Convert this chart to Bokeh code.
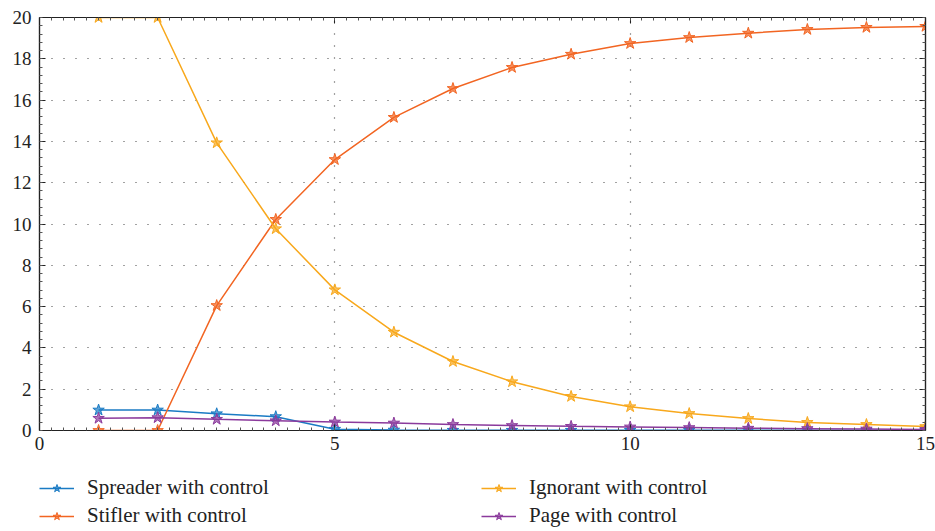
from bokeh.plotting import figure
from bokeh.layouts import column
from bokeh.models import Range1d, LinearAxis, Legend, LegendItem, FixedTicker
from bokeh.embed import file_html
from bokeh.resources import INLINE

t = list(range(1, 16))
spreader = [0.99, 0.99, 0.81, 0.67, 0.06, 0.02, 0.01, 0.01, 0.01, 0.01, 0.01, 0.01, 0.01, 0.01, 0.01]
stifler = [0.0, 0.0, 6.05, 10.22, 13.12, 15.16, 16.56, 17.58, 18.22, 18.74, 19.03, 19.24, 19.42, 19.52, 19.57]
ignorant = [20.0, 20.0, 13.93, 9.77, 6.81, 4.76, 3.34, 2.36, 1.65, 1.15, 0.82, 0.58, 0.39, 0.29, 0.19]
page = [0.59, 0.62, 0.54, 0.47, 0.41, 0.36, 0.29, 0.24, 0.20, 0.17, 0.14, 0.11, 0.09, 0.07, 0.05]

names = ["Spreader with control", "Stifler with control", "Ignorant with control", "Page with control"]
colors = ["#1A7BC4", "#F26522", "#F8A81C", "#8B3A9C"]
series = [spreader, stifler, ignorant, page]

x_ticks = [0, 5, 10, 15]
y_ticks = [0, 2, 4, 6, 8, 10, 12, 14, 16, 18, 20]

FONT = "Liberation Serif"

p = figure(width=935, height=460, output_backend="svg", toolbar_location=None,
           x_range=Range1d(0, 15), y_range=Range1d(0, 20),
           min_border_left=39, min_border_right=10, min_border_top=17, min_border_bottom=30,
           x_axis_location=None, y_axis_location=None)
p.outline_line_color = "#222222"
p.outline_line_width = 1.2
p.background_fill_color = "white"
p.border_fill_color = "white"

def style_axis(ax, labels=True):
    ax.major_tick_in = 6
    ax.major_tick_out = 0
    ax.minor_tick_in = 3
    ax.minor_tick_out = 0
    ax.axis_line_color = "#222222"
    ax.axis_line_width = 1.2
    ax.major_tick_line_color = "#222222"
    ax.minor_tick_line_color = "#555555"
    ax.major_label_text_font = FONT
    ax.major_label_text_font_size = "19px"
    ax.major_label_text_color = "#222222"
    ax.major_label_standoff = 6
    if not labels:
        ax.major_label_text_alpha = 0
        ax.major_label_text_font_size = "1px"
        ax.major_label_standoff = 0

xt = FixedTicker(ticks=x_ticks, minor_ticks=[i * 0.2 for i in range(0, 76)])
yt = FixedTicker(ticks=y_ticks, minor_ticks=[i * 0.4 for i in range(0, 51)])

bottom = LinearAxis(ticker=xt)
style_axis(bottom)
p.add_layout(bottom, "below")
top = LinearAxis(ticker=xt)
style_axis(top, labels=False)
p.add_layout(top, "above")
left = LinearAxis(ticker=yt)
style_axis(left)
left.major_label_standoff = 8
p.add_layout(left, "left")
right = LinearAxis(ticker=yt)
style_axis(right, labels=False)
p.add_layout(right, "right")

p.xgrid.ticker = FixedTicker(ticks=x_ticks)
p.ygrid.ticker = FixedTicker(ticks=y_ticks)
for g in (p.xgrid, p.ygrid):
    g.grid_line_color = "#444444"
    g.grid_line_dash = "1 11"
    g.grid_line_width = 1.2

# legend strip below the chart: same series drawn out of its visible range
lf = figure(width=935, height=71, output_backend="svg", toolbar_location=None,
            x_range=Range1d(0, 15), y_range=Range1d(100, 200),
            min_border=0, x_axis_location=None, y_axis_location=None)
lf.outline_line_color = None
lf.grid.visible = False
lf.background_fill_color = "white"
lf.border_fill_color = "white"

items = []
for name, col, ys in zip(names, colors, series):
    p.line(t, ys, line_color=col, line_width=1.5)
    p.scatter(t, ys, marker="star", size=12, fill_color=col, fill_alpha=0.7,
              line_color=col, line_width=1)
    l = lf.line(t, ys, line_color=col, line_width=1.5)
    m = lf.scatter(t, ys, marker="star", size=12, fill_color=col, fill_alpha=0.7,
                   line_color=col, line_width=1)
    items.append(LegendItem(label=name, renderers=[l, m]))

legend = Legend(items=items, ncols=2, location=(0, 3),
                label_text_font=FONT, label_text_font_size="21px", label_text_color="#222222",
                glyph_width=35, glyph_height=20, label_height=20, label_standoff=13,
                label_width=391, spacing=3, padding=0, margin=0,
                border_line_color=None, background_fill_alpha=0)
lf.add_layout(legend, "center")

layout = column(p, lf, spacing=0)
open("out.html", "w").write(file_html(layout, INLINE))
